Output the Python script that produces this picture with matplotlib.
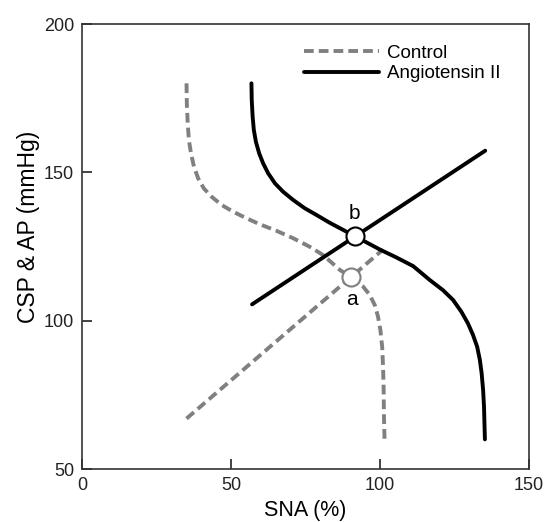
import matplotlib
matplotlib.use("Agg")
import matplotlib.pyplot as plt

plt.rcParams['font.family'] = ['Liberation Sans', 'DejaVu Sans']

# control: neural arc (SNA vs CSP) and peripheral arc (AP vs SNA)
ctrl_sna = [35.0, 35.1, 35.4, 35.8, 36.5, 37.5, 38.9, 40.8, 43.4, 46.8, 50.7,
            55.2, 59.6, 65.2, 70.8, 76.4, 80.9, 86.5, 90.4, 94.3, 96.5, 98.2,
            99.3, 100.1, 100.7, 101.0, 101.2, 101.3, 101.5]
ctrl_csp = [180.0, 173.3, 166.5, 160.9, 156.4, 151.9, 148.0, 144.6, 141.8, 139.0, 136.7,
            134.5, 132.5, 130.3, 127.8, 124.9, 122.1, 117.1, 114.6, 111.5, 108.7, 105.3,
            101.4, 96.9, 91.2, 84.5, 76.6, 67.6, 60.0]
ctrl_line_sna = [35.0, 101.0]
ctrl_line_ap = [67.0, 124.0]

# angiotensin II
ang_sna = [56.8, 56.9, 57.2, 57.6, 58.3, 59.4, 60.7, 62.4, 64.7, 67.4, 70.8,
           74.7, 78.7, 83.1, 87.6, 91.5, 99.9, 105.5, 111.1, 116.7, 121.1, 124.5,
           127.3, 129.5, 131.2, 132.6, 133.5, 134.1, 134.6, 134.9, 135.2]
ang_csp = [180.0, 174.4, 168.8, 164.3, 160.3, 156.4, 153.1, 149.7, 146.3, 143.5, 140.7,
           137.9, 135.6, 133.0, 130.6, 128.5, 124.0, 121.3, 118.4, 113.7, 110.3, 107.0,
           103.0, 99.1, 95.2, 91.2, 86.8, 82.3, 76.6, 71.0, 60.0]
ang_line_sna = [57.0, 135.3]
ang_line_ap = [105.5, 157.3]

# operating points
op_labels = ['a', 'b']
op_sna = [90.4, 91.5]
op_ap = [114.8, 128.5]

GRAY = '#808080'
dash = (0, (2.5, 1.3))

fig = plt.figure(figsize=(5.45, 5.22), dpi=100)
ax = fig.add_axes([0.151, 0.1015, 0.8196, 0.8525])

ax.plot(ctrl_sna, ctrl_csp, color=GRAY, lw=2.8, linestyle=dash, label='Control')
ax.plot(ctrl_line_sna, ctrl_line_ap, color=GRAY, lw=2.8, linestyle=dash)
ax.plot(ang_sna, ang_csp, color='black', lw=2.8, label='Angiotensin II',
        solid_capstyle='round', solid_joinstyle='round')
ax.plot(ang_line_sna, ang_line_ap, color='black', lw=2.8, solid_capstyle='round')

ax.plot(op_sna[0], op_ap[0], 'o', ms=13, mfc='white', mec=GRAY, mew=1.5, zorder=5)
ax.plot(op_sna[1], op_ap[1], 'o', ms=13, mfc='white', mec='black', mew=1.5, zorder=5)
ax.text(op_sna[0], op_ap[0] - 4.5, op_labels[0], ha='center', va='top', fontsize=15)
ax.text(op_sna[1], op_ap[1] + 4.5, op_labels[1], ha='center', va='bottom', fontsize=15)

ax.set_xlim(0, 150)
ax.set_ylim(50, 200)
ax.set_xticks([0, 50, 100, 150])
ax.set_yticks([50, 100, 150, 200])
ax.tick_params(direction='in', length=7, width=1.2, labelsize=13, pad=6, colors='#222222')
for s in ax.spines.values():
    s.set_linewidth(1.2)
    s.set_color('#333333')

ax.set_xlabel('SNA (%)', fontsize=15.5, labelpad=4)
ax.set_ylabel('CSP & AP (mmHg)', fontsize=16.5)
ax.yaxis.set_label_coords(-0.095, 0.545)

ax.legend(loc='upper right', bbox_to_anchor=(0.974, 0.992), frameon=False,
          fontsize=13.5, handlelength=4.0, handletextpad=0.4, labelspacing=0.2)

fig.savefig('out.png', dpi=100)
